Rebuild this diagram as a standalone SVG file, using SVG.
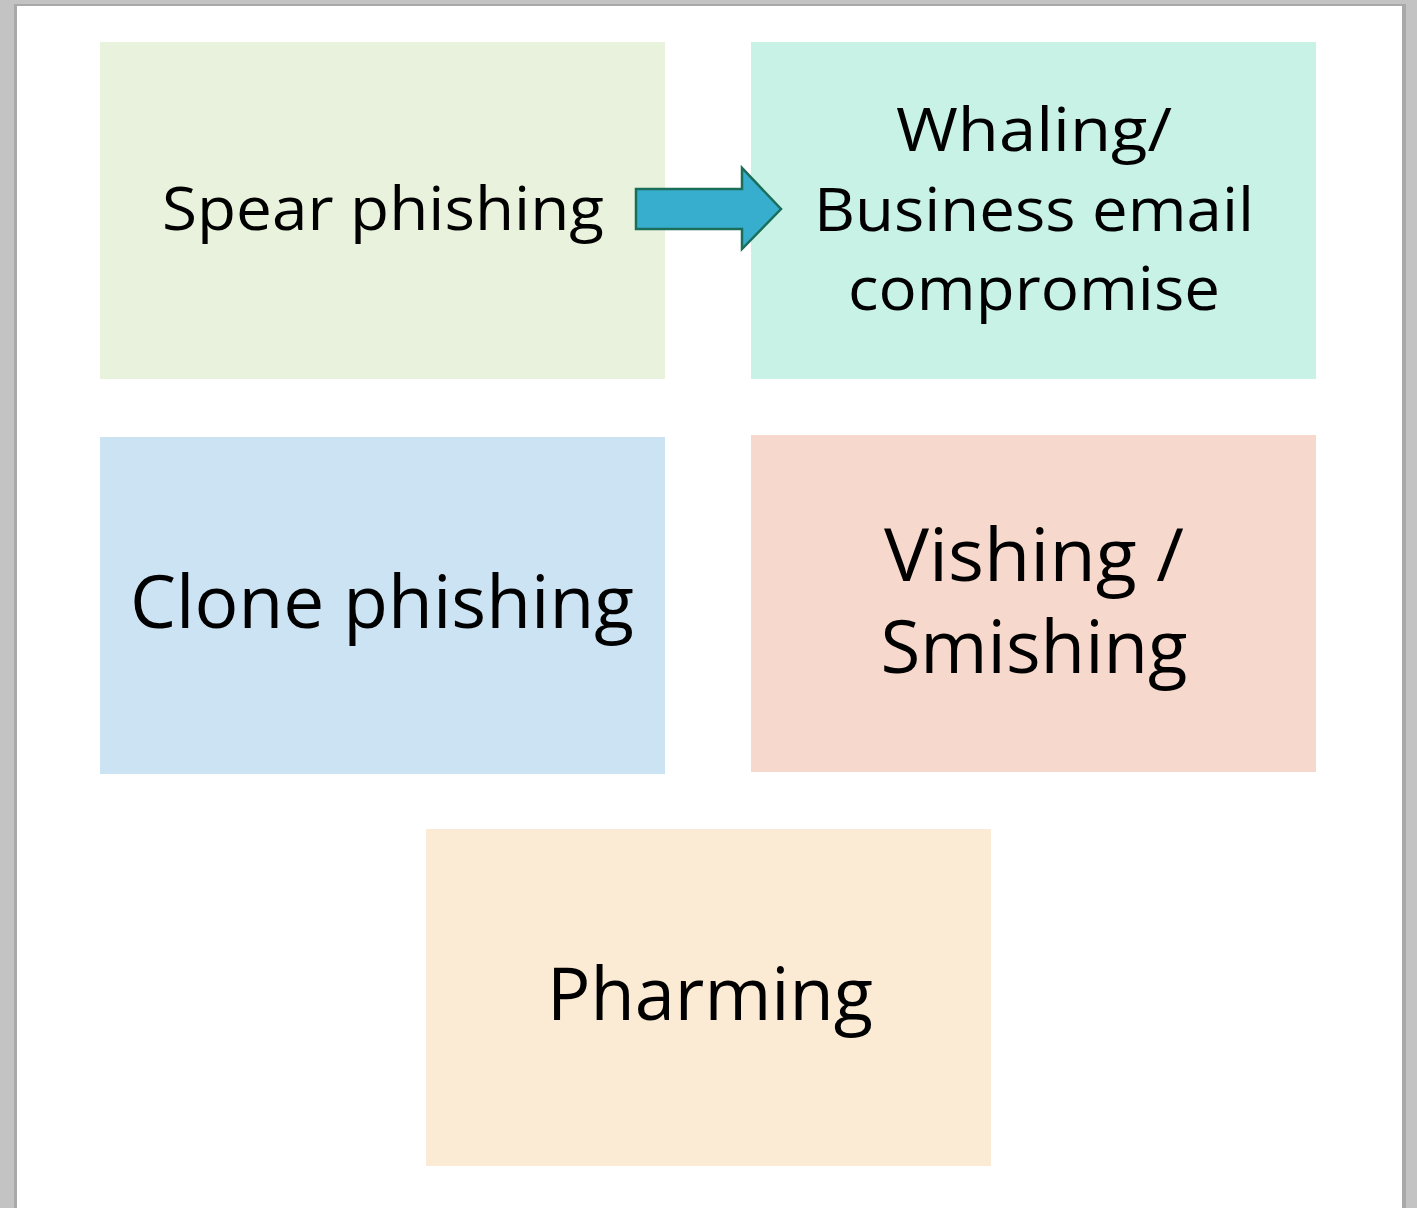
<svg xmlns="http://www.w3.org/2000/svg" width="1417" height="1208" viewBox="0 0 1417 1208">
<style>
.t{font-family:"Open Sans","Liberation Sans",sans-serif;fill:#000;text-anchor:middle}
.s{font-size:61px}
.l{font-size:73px}
</style>
<rect x="0" y="0" width="1417" height="1208" fill="#c3c3c3"/>
<rect x="14" y="4" width="1392" height="1210" fill="#a9a9a9"/>
<rect x="17" y="6" width="1385" height="1210" fill="#ffffff"/>
<g id="spear"><rect x="100" y="42" width="565" height="337" fill="#E8F2DC"/>
<text class="t s" x="383" y="230" textLength="442" lengthAdjust="spacingAndGlyphs">Spear phishing</text></g>
<g id="whaling"><rect x="751" y="42" width="565" height="337" fill="#C7F2E5"/>
<text class="t s" x="1034" y="151" textLength="276" lengthAdjust="spacingAndGlyphs">Whaling/</text>
<text class="t s" x="1034" y="231" textLength="440" lengthAdjust="spacingAndGlyphs">Business email</text>
<text class="t s" x="1034" y="310" textLength="372" lengthAdjust="spacingAndGlyphs">compromise</text></g>
<g id="clone"><rect x="100" y="437" width="565" height="337" fill="#CCE3F4"/>
<text class="t l" x="382" y="628" textLength="504" lengthAdjust="spacingAndGlyphs">Clone phishing</text></g>
<g id="vishing"><rect x="751" y="435" width="565" height="337" fill="#F7D8CC"/>
<text class="t l" x="1034" y="581" textLength="300" lengthAdjust="spacingAndGlyphs">Vishing /</text>
<text class="t l" x="1034" y="673" textLength="307" lengthAdjust="spacingAndGlyphs">Smishing</text></g>
<g id="pharming"><rect x="426" y="829" width="565" height="337" fill="#FBEAD4"/>
<text class="t l" x="710" y="1020" textLength="326" lengthAdjust="spacingAndGlyphs">Pharming</text></g>
<g id="connectors">
<path d="M636 189 H742 V168 L781 209 L742 249 V229 H636 Z" fill="#38AECF" stroke="#1B6E5A" stroke-width="2.5" stroke-linejoin="miter"/>
</g>
</svg>
